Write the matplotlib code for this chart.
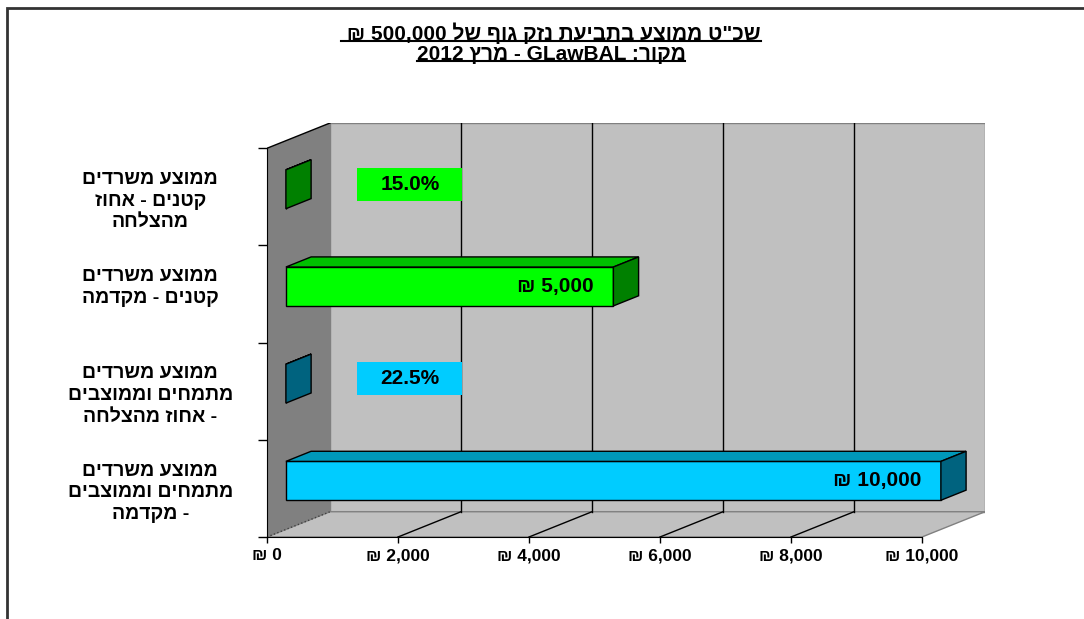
import re
import matplotlib.pyplot as plt
from matplotlib.patches import Polygon, Rectangle
from matplotlib.lines import Line2D
from matplotlib.ticker import FuncFormatter

plt.rcParams['font.family'] = ['Liberation Sans', 'DejaVu Sans']
plt.rcParams['font.weight'] = 'bold'

# Data (categories listed top to bottom, as in the chart)
title_lines = ['שכ"ט ממוצע בתביעת נזק גוף של 500,000 ₪ ', 'מקור: GLawBAL - מרץ 2012']
category_lines = [
    ['ממוצע משרדים', 'קטנים - אחוז', 'מהצלחה'],
    ['ממוצע משרדים', 'קטנים - מקדמה', ''],
    ['ממוצע משרדים', 'מתמחים וממוצבים', '- אחוז מהצלחה'],
    ['ממוצע משרדים', 'מתמחים וממוצבים', '- מקדמה'],
]
values = [0.15, 5000, 0.225, 10000]
is_pct = [True, False, True, False]
x_ticks = [0, 2000, 4000, 6000, 8000, 10000]

front_colors = ['#00FF00', '#00FF00', '#00CCFF', '#00CCFF']
top_colors = ['#00C000', '#00C000', '#0098BA', '#0098BA']
side_colors = ['#008000', '#008000', '#00637F', '#00637F']


def visual(s):
    # matplotlib has no bidi support: put Hebrew into display order, keep LTR runs
    r = s[::-1]
    return re.sub(r'[0-9A-Za-z.,%]+', lambda m: m.group(0)[::-1], r)


# fake 3D depth of the plot box (x in value units, y in category units)
DX = 962
DY = 0.26
D0, D1 = 0.3, 0.7
BAR_H = 0.4
n = len(values)
x_max = x_ticks[-1]


def P(v, y, d):
    return (v + d * DX, y + d * DY)


fig = plt.figure(figsize=(10.84, 6.19), dpi=100)
ax = fig.add_axes([267 / 1084, 82 / 619, 718 / 1084, 414 / 619])
ax.set_xlim(0, x_max + DX)
ax.set_ylim(0, n + DY)
ax.patch.set_visible(False)

# walls and floor
ax.add_patch(Rectangle(P(0, 0, 1), x_max, n, fc='#C0C0C0', ec='#808080', lw=1, zorder=0))
ax.add_patch(Polygon([P(0, 0, 0), P(0, 0, 1), P(0, n, 1), P(0, n, 0)], fc='#808080', ec='none', zorder=0))
ax.add_patch(Polygon([P(0, 0, 0), P(x_max, 0, 0), P(x_max, 0, 1), P(0, 0, 1)],
                     fc='#C0C0C0', ec='#808080', lw=1, zorder=0))
ax.plot(*zip(P(0, n, 0), P(0, n, 1)), color='black', lw=1, zorder=1)
ax.plot(*zip(P(0, 0, 0), P(0, 0, 1)), color='#404040', lw=1, ls=':', zorder=1)
for v in x_ticks[1:-1]:
    ax.plot(*zip(P(v, 0, 1), P(v, n, 1)), color='black', lw=1, zorder=1)
    ax.plot(*zip(P(v, 0, 0), P(v, 0, 1)), color='black', lw=1, zorder=1)

# bars
for i, v in enumerate(values):
    c = n - 1 - i + 0.5
    yb, yt = c - BAR_H / 2, c + BAR_H / 2
    ax.barh(c + D0 * DY, v, height=BAR_H, left=D0 * DX, color=front_colors[i],
            edgecolor='black', lw=1, zorder=3)
    ax.add_patch(Polygon([P(0, yt, D0), P(v, yt, D0), P(v, yt, D1), P(0, yt, D1)],
                         fc=top_colors[i], ec='black', lw=1, zorder=3))
    ax.add_patch(Polygon([P(v, yb, D0), P(v, yb, D1), P(v, yt, D1), P(v, yt, D0)],
                         fc=side_colors[i], ec='black', lw=1, zorder=3))
    if is_pct[i]:
        lx, ly = P(v + 1700, c, 0.5)
        ax.add_patch(Rectangle((lx - 800, ly - 0.17), 1600, 0.34, fc=front_colors[i], ec='none', zorder=4))
        ax.text(lx, ly, f'{v:.1%}', ha='center', va='center', fontsize=15, zorder=5)
    else:
        ax.text(*P(v - 300, c, D0), f'₪ {v:,.0f}', ha='right', va='center', fontsize=15, zorder=4)

# axes
for s in ['top', 'right']:
    ax.spines[s].set_visible(False)
ax.spines['bottom'].set_bounds(0, x_max)
ax.spines['left'].set_bounds(0, n)
ax.set_xticks(x_ticks)
ax.xaxis.set_major_formatter(FuncFormatter(lambda v, p: f'₪ {v:,.0f}'))
ax.tick_params(axis='x', length=4, width=1, pad=4, labelsize=12.5)
ax.set_yticks([k + 0.5 for k in range(n)],
              labels=['\n'.join(visual(t) for t in lines) for lines in category_lines[::-1]])
ax.set_yticks(range(n + 1), minor=True)
ax.tick_params(axis='y', which='major', length=0, pad=84, labelsize=14)
ax.tick_params(axis='y', which='minor', length=6.5, width=1)
for t in ax.get_yticklabels():
    t.set_ha('center')
    t.set_multialignment('center')
    t.set_linespacing(1.35)

# title, underlined
titles = [fig.text(551 / 1084, 1 - y / 619, visual(s), ha='center', va='center', fontsize=15)
          for s, y in zip(title_lines, [33, 54])]
fig.canvas.draw()
r = fig.canvas.get_renderer()
for t in titles:
    bb = t.get_window_extent(r).transformed(fig.transFigure.inverted())
    fig.add_artist(Line2D([bb.x0, bb.x1], [bb.y0 + 0.004] * 2, transform=fig.transFigure,
                          color='black', lw=1.5))

# frame around the chart area
fig.add_artist(Rectangle((7 / 1084, -0.05), 1.1, 1.05 - 8 / 619, transform=fig.transFigure,
                         fill=False, ec='#333333', lw=2))

fig.savefig('out.png', dpi=100)
